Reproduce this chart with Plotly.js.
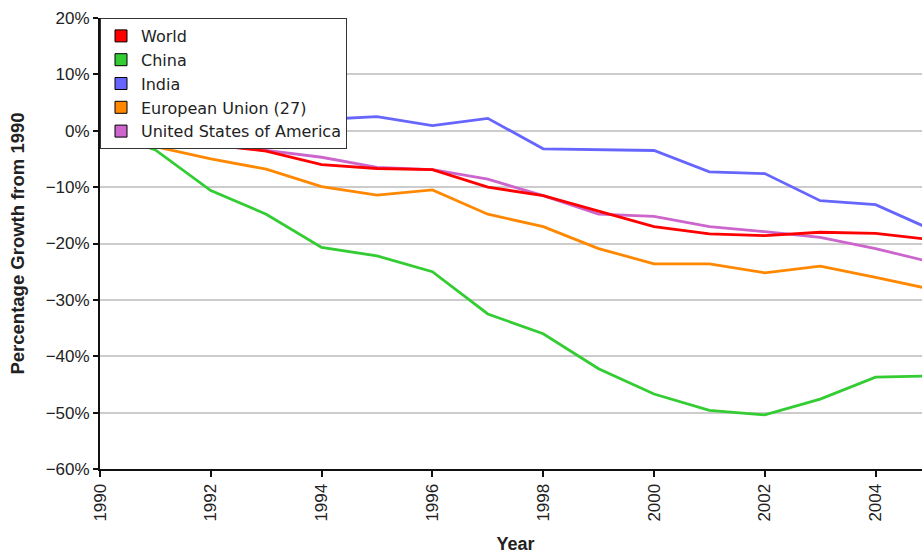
<!DOCTYPE html>
<html>
<head>
<meta charset="utf-8">
<script src="https://cdn.plot.ly/plotly-3.0.1.min.js"></script>
<style>
html, body { margin: 0; padding: 0; overflow: hidden; background: #fff; }
#chart { width: 935px; height: 554px; }
</style>
</head>
<body>
<div id="chart"></div>
<script>
var years = [1990, 1991, 1992, 1993, 1994, 1995, 1996, 1997, 1998, 1999, 2000, 2001, 2002, 2003, 2004, 2005];

var world = [0, -1.5, -2.5, -3.6, -6.0, -6.7, -6.9, -10.0, -11.5, -14.3, -17.0, -18.3, -18.6, -18.0, -18.2, -19.3];
var china = [0, -3.4, -10.6, -14.8, -20.7, -22.2, -25.0, -32.5, -36.0, -42.2, -46.7, -49.6, -50.4, -47.6, -43.7, -43.5];
var india = [0, 1.0, 1.5, 1.2, 2.0, 2.5, 0.9, 2.2, -3.2, -3.3, -3.5, -7.3, -7.6, -12.4, -13.1, -17.5];
var eu27  = [0, -2.8, -5.0, -6.8, -9.9, -11.4, -10.5, -14.8, -17.0, -20.9, -23.6, -23.6, -25.2, -24.0, -26.0, -28.1];
var usa   = [0, -1.0, -2.5, -3.5, -4.7, -6.5, -6.9, -8.6, -11.5, -14.8, -15.2, -17.0, -17.9, -18.9, -20.9, -23.3];

var seriesNames = ["World", "China", "India", "European Union (27)", "United States of America"];
var seriesData = [world, china, india, eu27, usa];
var seriesColors = ["#ff0000", "#33cc33", "#6666ff", "#ff8800", "#cc66cc"];

var yTickVals = [20, 10, 0, -10, -20, -30, -40, -50, -60];
var yTickText = ["20%", "10%", "0%", "\u221210%", "\u221220%", "\u221230%", "\u221240%", "\u221250%", "\u221260%"];
var xTickVals = [1990, 1992, 1994, 1996, 1998, 2000, 2002, 2004];

var traces = [];
// draw order: China, India, EU, USA, World (World on top)
var drawOrder = [1, 2, 3, 4, 0];
drawOrder.forEach(function (i) {
  traces.push({
    x: years, y: seriesData[i], type: "scatter", mode: "lines",
    name: seriesNames[i], showlegend: false, hoverinfo: "x+y+name",
    line: { color: seriesColors[i], width: 2.8 }
  });
});
// legend entries with square swatches
for (var i = 0; i < seriesNames.length; i++) {
  traces.push({
    x: [null], y: [null], type: "scatter", mode: "markers",
    name: seriesNames[i], showlegend: true, hoverinfo: "skip",
    marker: { symbol: "square", size: 12, color: seriesColors[i], line: { color: "#000", width: 1 } }
  });
}

var layout = {
  width: 935, height: 554,
  margin: { l: 100, r: 4, t: 18, b: 85 },
  paper_bgcolor: "#fff", plot_bgcolor: "#fff",
  font: { family: "Liberation Sans, Arial, sans-serif", size: 17, color: "#222" },
  showlegend: true,
  legend: {
    x: 0, y: 1, xanchor: "left", yanchor: "top",
    bgcolor: "#fff", bordercolor: "#333", borderwidth: 1,
    font: { family: "DejaVu Sans, sans-serif", size: 16, color: "#222" },
    itemclick: false
  },
  xaxis: {
    range: [1990, 2005],
    tickvals: xTickVals, ticktext: xTickVals.map(String),
    tickangle: -90,
    ticks: "outside", ticklen: 6, tickwidth: 2, tickcolor: "#111",
    showline: true, linecolor: "#111", linewidth: 2,
    showgrid: false, zeroline: false,
    tickfont: { size: 17, color: "#222" },
    title: { text: "Year", font: { size: 18, weight: "bold", color: "#222" }, standoff: 20 }
  },
  yaxis: {
    range: [-60, 20],
    tickvals: yTickVals, ticktext: yTickText,
    ticks: "outside", ticklen: 5, tickwidth: 2, tickcolor: "#111",
    showline: true, linecolor: "#111", linewidth: 2,
    showgrid: true, gridcolor: "#cccccc", gridwidth: 2,
    zeroline: false,
    tickfont: { size: 17, color: "#222" },
    title: { text: "Percentage Growth from 1990", font: { size: 18.5, weight: "bold", color: "#222" }, standoff: 16 }
  }
};

Plotly.newPlot("chart", traces, layout, { displayModeBar: false });
</script>
</body>
</html>
